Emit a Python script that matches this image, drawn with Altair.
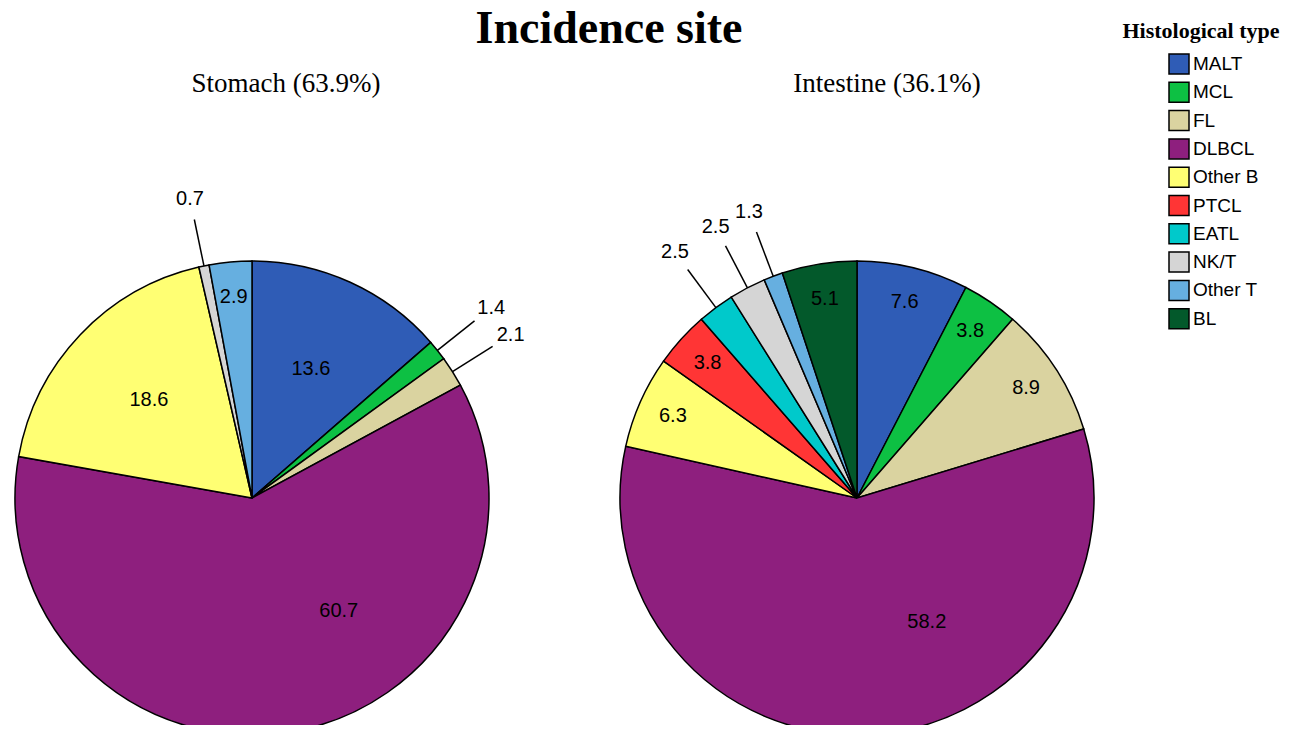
import altair as alt
import pandas as pd

# ---- data -------------------------------------------------------------
types = ["MALT", "MCL", "FL", "DLBCL", "Other B", "PTCL", "EATL", "NK/T", "Other T", "BL"]
colors = ["#2F5CB6", "#0DC043", "#DAD3A0", "#8E1F7E", "#FFFF73",
          "#FF3535", "#00C9CB", "#D5D5D5", "#66AFE0", "#03592B"]
stomach = [13.6, 1.4, 2.1, 60.7, 18.6, 0.0, 0.0, 0.7, 2.9, 0.0]
intestine = [7.6, 3.8, 8.9, 58.2, 6.3, 3.8, 2.5, 2.5, 1.3, 5.1]
sites = ["Stomach", "Intestine"]
site_share = [63.9, 36.1]
main_title = "Incidence site"
legend_title = "Histological type"

rows = []
for site, vals in zip(sites, [stomach, intestine]):
    for i, (t, v) in enumerate(zip(types, vals)):
        rows.append({"site": site, "type": t, "idx": i, "value": v})
df = pd.DataFrame(rows)

# ---- layout constants -------------------------------------------------
R = 237
CY = 490
centers = {"Stomach": 244, "Intestine": 849}
sub_x = {"Stomach": 278, "Intestine": 879}

color = alt.Color(
    "type:N",
    scale=alt.Scale(domain=types, range=colors),
    legend=alt.Legend(
        title=None, orient="none", legendX=1160, legendY=45,
        symbolType="square", symbolSize=400, symbolStrokeColor="black",
        symbolStrokeWidth=1.5, symbolOpacity=1, symbolOffset=0,
        labelFont="Liberation Sans", labelFontSize=19, labelColor="black",
        labelOffset=3, rowPadding=2.3, padding=0,
    ),
)

layers = []
for site in sites:
    cx = centers[site]
    base = (
        alt.Chart(df)
        .transform_filter(alt.datum.site == site)
        .transform_window(cum="sum(value)", sort=[alt.SortField("idx")], frame=[None, 0])
        .transform_calculate(
            t1="datum.cum / 100 * 2 * PI",
            t0="(datum.cum - datum.value) / 100 * 2 * PI",
        )
        .transform_calculate(mid="(datum.t0 + datum.t1) / 2")
        .transform_filter(alt.datum.value > 0)
    )
    arcs = base.mark_arc(outerRadius=R, stroke="black", strokeWidth=1.5).encode(
        theta=alt.Theta("t0:Q", scale=None, stack=False),
        theta2="t1:Q",
        color=color,
        x=alt.value(cx),
        y=alt.value(CY),
    )
    labels = (
        base.transform_calculate(
            lr=f"datum.value >= 10 ? {0.6 * R} : (datum.value >= 2.7 ? {0.85 * R} : {1.29 * R})",
            la="datum.value >= 40 ? datum.t0 + 0.37 * (datum.t1 - datum.t0) : datum.mid",
        )
        .mark_text(font="Liberation Sans", fontSize=20, color="black",
                   align="center", baseline="middle")
        .encode(
            theta=alt.Theta("la:Q", scale=None, stack=False),
            radius=alt.Radius("lr:Q", scale=None),
            text=alt.Text("value:Q", format=".1f"),
            x=alt.value(cx),
            y=alt.value(CY),
        )
    )
    leaders = (
        base.transform_filter(alt.datum.value < 2.7)
        .transform_calculate(
            lx1=f"{cx} + {R} * sin(datum.mid)",
            ly1=f"{CY} - {R} * cos(datum.mid)",
            lx2=f"{cx} + {1.2 * R} * sin(datum.mid)",
            ly2=f"{CY} - {1.2 * R} * cos(datum.mid)",
        )
        .mark_rule(color="black", strokeWidth=1.5)
        .encode(
            x=alt.X("lx1:Q", scale=None, axis=None),
            y=alt.Y("ly1:Q", scale=None, axis=None),
            x2="lx2:Q",
            y2="ly2:Q",
        )
    )
    share = site_share[sites.index(site)]
    sub = alt.Chart(pd.DataFrame({"t": [f"{site} ({share}%)"]})).mark_text(
        font="Liberation Serif", fontSize=27, color="black",
        align="center", baseline="alphabetic",
    ).encode(text="t:N", x=alt.value(sub_x[site]), y=alt.value(84))
    layers += [arcs, leaders, labels, sub]

title_layer = alt.Chart(pd.DataFrame({"t": [main_title]})).mark_text(
    font="Liberation Serif", fontSize=46, fontWeight="bold", color="black",
    align="center", baseline="alphabetic",
).encode(text="t:N", x=alt.value(601), y=alt.value(35))

legend_title_layer = alt.Chart(pd.DataFrame({"t": [legend_title]})).mark_text(
    font="Liberation Serif", fontSize=22, fontWeight="bold", color="black",
    align="center", baseline="alphabetic",
).encode(text="t:N", x=alt.value(1193), y=alt.value(30))

chart = (
    alt.layer(*layers, title_layer, legend_title_layer)
    .properties(width=1278, height=717, autosize=alt.AutoSizeParams(type="none"),
                padding=0, background="white")
    .configure_view(stroke="transparent")
)

chart.save("out.html", embed_options={"renderer": "svg", "actions": False})
